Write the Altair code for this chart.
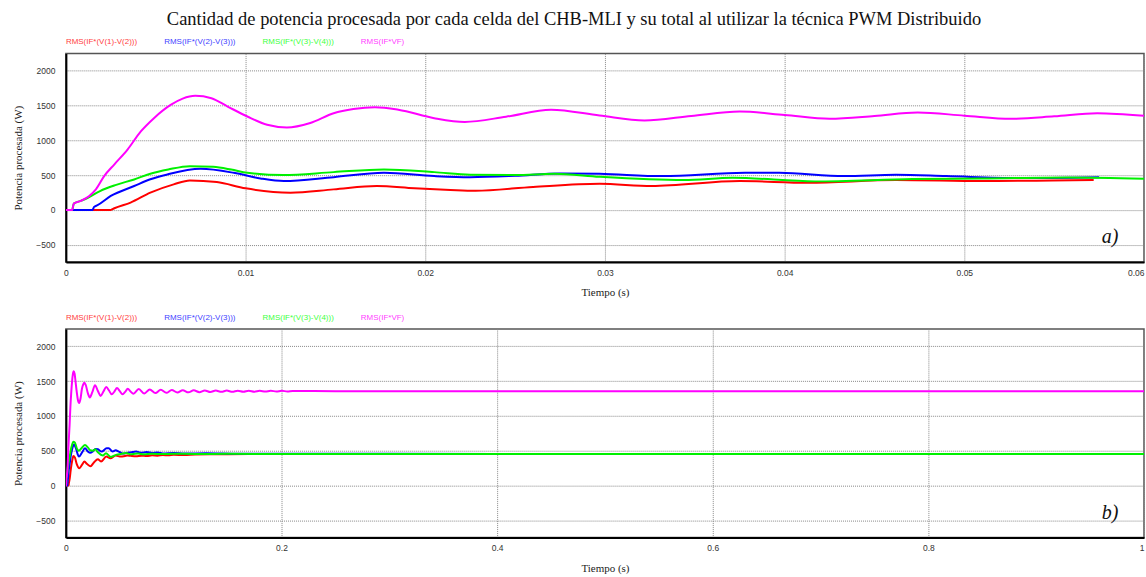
import altair as alt
import pandas as pd

# ---------------- text ----------------
TITLE = "Cantidad de potencia procesada por cada celda del CHB-MLI y su total al utilizar la técnica PWM Distribuido"
Y_TITLE = "Potencia procesada (W)"
X_TITLE = "Tiempo (s)"
SERIES = ["RMS(IF*(V(1)-V(2)))", "RMS(IF*(V(2)-V(3)))", "RMS(IF*(V(3)-V(4)))", "RMS(IF*VF)"]
LINE_COLORS = ["#ff0000", "#0000ff", "#00f000", "#ff00ff"]
LABEL_COLORS = ["#ff4040", "#4040ff", "#40ff40", "#ff40ff"]
TAGS = ["a)", "b)"]

X_TICKS_A = [0, 0.01, 0.02, 0.03, 0.04, 0.05, 0.06]
X_TICKS_B = [0, 0.2, 0.4, 0.6, 0.8, 1]
Y_TICKS = [-500, 0, 500, 1000, 1500, 2000]

# ---------------- data: first 60 ms (panel a) ----------------
t_red = [0, 0.0025, 0.0027, 0.0036, 0.0047, 0.0060, 0.0069, 0.0084, 0.0100, 0.0125, 0.0149,
         0.0173, 0.0194, 0.0214, 0.0228, 0.0260, 0.0297, 0.0326, 0.0375, 0.0413, 0.0462,
         0.0510, 0.0549, 0.0572]
p_red = [0, 0, 24, 105, 248, 367, 424, 400, 310, 248, 295,
         343, 310, 286, 275, 330, 376, 343, 414, 390, 429,
         414, 424, 430]

t_blue = [0, 0.00148, 0.00157, 0.00176, 0.0025, 0.0038, 0.0047, 0.00565, 0.0075, 0.00935,
          0.01083, 0.01213, 0.0149, 0.0177, 0.0205, 0.0225, 0.0250, 0.0275, 0.0297, 0.0332,
          0.0378, 0.0397, 0.0433, 0.0462, 0.0490, 0.0529, 0.0575]
p_blue = [0, 0, 43, 67, 200, 343, 440, 510, 590, 533,
          452, 414, 471, 533, 486, 470, 490, 525, 519, 486,
          533, 533, 486, 505, 486, 457, 471]

t_green = [0, 0.00035, 0.00044, 0.00083, 0.0012, 0.0019, 0.0028, 0.0038, 0.0047, 0.0057,
           0.0069, 0.0082, 0.0092, 0.0101, 0.0121, 0.0149, 0.0177, 0.0205, 0.0225, 0.0250,
           0.0272, 0.0297, 0.0344, 0.0371, 0.0417, 0.0471, 0.0510, 0.0558, 0.0600]
p_green = [0, 0, 90, 130, 170, 271, 360, 438, 520, 581,
           629, 619, 580, 533, 500, 543, 581, 543, 505, 500,
           520, 476, 429, 462, 410, 443, 452, 467, 448]

t_mag = [0, 0.00035, 0.00044, 0.00083, 0.0013, 0.00167, 0.00213, 0.00269, 0.00343, 0.00417,
         0.0049, 0.00583, 0.0065, 0.0072, 0.0081, 0.0090, 0.0101, 0.0112, 0.0123, 0.0136,
         0.0149, 0.0160, 0.0172, 0.0185, 0.0205, 0.0222, 0.0245, 0.0270, 0.0297, 0.0322,
         0.0348, 0.0375, 0.0400, 0.0425, 0.0450, 0.0474, 0.0500, 0.0526, 0.0550, 0.0574, 0.0600]
p_mag = [0, 0, 90, 130, 200, 295, 486, 652, 867, 1128,
         1319, 1509, 1600, 1640, 1605, 1486, 1343, 1224, 1185, 1250,
         1390, 1450, 1476, 1440, 1319, 1265, 1340, 1440, 1357, 1286,
         1350, 1414, 1365, 1310, 1350, 1400, 1355, 1310, 1345, 1390, 1352]

# ---------------- data: after 60 ms (panel b only) ----------------
t_red_ext = [0.060, 0.065, 0.070, 0.075, 0.080, 0.085, 0.090, 0.095, 0.100, 0.110, 0.120,
             0.140, 0.170, 0.250, 0.400, 0.600, 0.800, 1.0]
p_red_ext = [425, 418, 428, 422, 432, 428, 436, 432, 440, 438, 445,
             447, 450, 450, 452, 450, 451, 450]

t_blue_ext = [0.060, 0.065, 0.070, 0.075, 0.080, 0.085, 0.090, 0.100, 0.110, 0.130, 0.160,
              0.200, 0.400, 0.600, 0.800, 1.0]
p_blue_ext = [475, 488, 470, 480, 465, 472, 460, 466, 458, 462, 455,
              455, 453, 453, 453, 453]

t_green_ext = [0.062, 0.067, 0.072, 0.080, 0.090, 0.100, 0.120, 0.150, 0.200, 0.400, 0.600, 0.800, 1.0]
p_green_ext = [450, 458, 448, 456, 450, 455, 452, 454, 452, 452, 452, 452, 452]

t_mag_ext = [0.0626, 0.0676, 0.0728, 0.0778, 0.0830, 0.0880, 0.0932, 0.0982, 0.1034, 0.1084,
             0.1136, 0.1186, 0.1238, 0.1288, 0.1340, 0.1390, 0.1442, 0.1492, 0.1544, 0.1594,
             0.1646, 0.1696, 0.1748, 0.1798, 0.1850, 0.1900, 0.1952, 0.2002, 0.2054, 0.2104,
             0.2500, 0.4000, 0.6000, 0.8000, 1.0]
p_mag_ext = [1318, 1385, 1322, 1380, 1327, 1376, 1331, 1372, 1335, 1369,
             1338, 1367, 1341, 1365, 1343, 1364, 1345, 1363, 1346, 1362,
             1347, 1362, 1348, 1361, 1349, 1361, 1350, 1360, 1351, 1359,
             1355, 1355, 1355, 1355, 1355]


def frame(ts, ps, name):
    return pd.DataFrame({"t": ts, "p": ps, "serie": name})


base_sets = [(t_red, p_red), (t_blue, p_blue), (t_green, p_green), (t_mag, p_mag)]
ext_sets = [(t_red_ext, p_red_ext), (t_blue_ext, p_blue_ext), (t_green_ext, p_green_ext), (t_mag_ext, p_mag_ext)]

df_a = pd.concat([frame(t, p, n) for (t, p), n in zip(base_sets, SERIES)], ignore_index=True)
df_b = pd.concat([frame(t + te, p + pe, n) for (t, p), (te, pe), n in zip(base_sets, ext_sets, SERIES)],
                 ignore_index=True)

W, H = 1080, 209


def frame_box(x1, x2, y1, y2):
    # invisible box that fixes the outer extent of the figure
    return alt.Chart(pd.DataFrame({"k": [0]})).mark_rect(opacity=0, fill="white", stroke=None).encode(
        x=alt.value(x1), x2=alt.value(x2), y=alt.value(y1), y2=alt.value(y2))


def panel(df, domain, ticks, last_val, tag, with_title):
    x = alt.X("t:Q", scale=alt.Scale(domain=domain, nice=False, zero=False),
              axis=alt.Axis(values=ticks, format="~g", title=X_TITLE, labelFlush=False,
                            labelOverlap=False, labelPadding=6, titlePadding=10,
                            labelAlign={"expr": f"datum.value >= {last_val} ? 'right' : 'center'"}))
    y = alt.Y("p:Q", scale=alt.Scale(domain=[-750, 2250], nice=False, zero=False),
              axis=alt.Axis(values=Y_TICKS, format="d", title=Y_TITLE, labelPadding=11, titlePadding=12))
    lines = alt.Chart(df).mark_line(strokeWidth=2, interpolate="monotone", clip=True).encode(
        x=x, y=y,
        color=alt.Color("serie:N", scale=alt.Scale(domain=SERIES, range=LINE_COLORS), legend=None),
    )
    layers = [lines]
    for i, (name, col) in enumerate(zip(SERIES, LABEL_COLORS)):
        layers.append(
            alt.Chart(pd.DataFrame({"label": [name]})).mark_text(
                align="left", baseline="middle", font="Liberation Sans", fontSize=8, color=col
            ).encode(text="label:N", x=alt.value(i * 98.5), y=alt.value(-11))
        )
    layers.append(
        alt.Chart(pd.DataFrame({"label": [tag]})).mark_text(
            align="center", baseline="alphabetic", font="Liberation Serif", fontStyle="italic",
            fontSize=20, color="#111"
        ).encode(text="label:N", x=alt.value(1046), y=alt.value(190))
    )
    if with_title:
        layers.append(
            alt.Chart(pd.DataFrame({"label": [TITLE]})).mark_text(
                align="center", baseline="alphabetic", font="Liberation Serif", fontSize=18.5, color="#111"
            ).encode(text="label:N", x=alt.value(509), y=alt.value(-28))
        )
        layers.append(frame_box(-65, W + 1, -52, 0))
    else:
        layers.append(frame_box(-65, W + 1, H, H + 40))
    return alt.layer(*layers).properties(width=W, height=H)


pa = panel(df_a, [0, 0.06], X_TICKS_A, 0.059, TAGS[0], True)
pb = panel(df_b, [0, 1], X_TICKS_B, 0.99, TAGS[1], False)

chart = alt.vconcat(pa, pb, spacing=67, bounds="flush").properties(
    padding=0,
).configure_view(
    stroke="#555", strokeWidth=1.5
).configure_axis(
    domainColor="#000", domainWidth=2, ticks=False,
    grid=True, gridColor="#888", gridDash=[1, 1], gridWidth=1,
    labelFont="Liberation Sans", labelFontSize=8.5, labelColor="#333",
    titleFont="Liberation Serif", titleFontSize=11, titleFontWeight="normal", titleColor="#222",
)

chart.save("out.html", embed_options={"renderer": "svg", "actions": False})
